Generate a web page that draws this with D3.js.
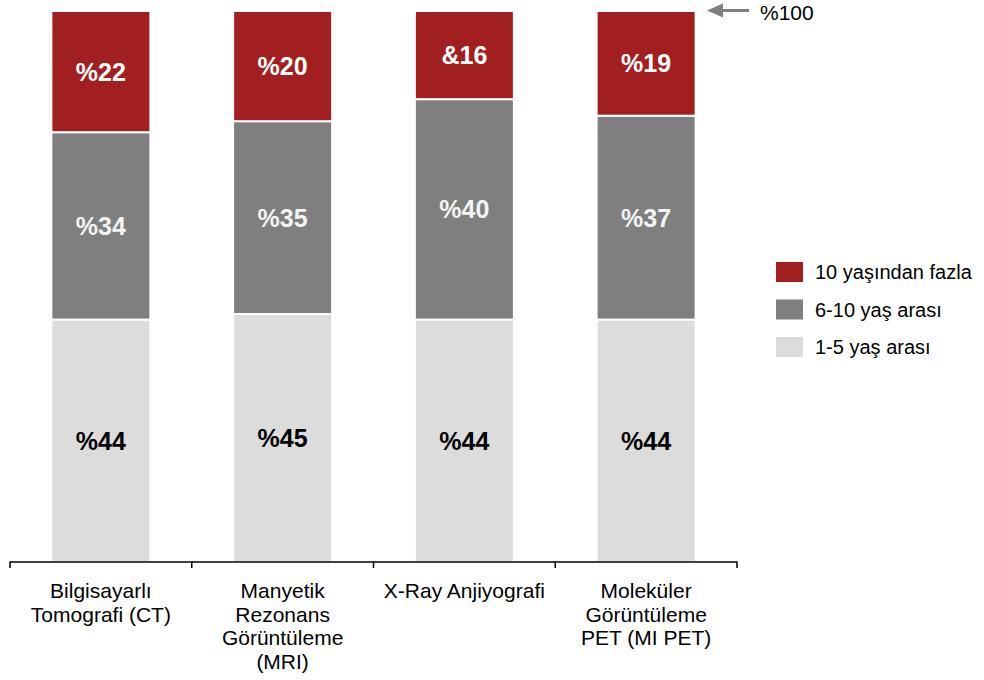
<!DOCTYPE html>
<html><head><meta charset="utf-8">
<script src="https://cdn.jsdelivr.net/npm/d3@7/dist/d3.min.js"></script>
<style>body{margin:0;background:#fff}svg{display:block;font-family:"Liberation Sans",Arial,sans-serif}</style>
</head><body><svg id="c" width="984" height="680"></svg>
<script>
const categories = [["Bilgisayarlı","Tomografi (CT)"],["Manyetik","Rezonans","Görüntüleme","(MRI)"],["X-Ray Anjiyografi"],["Moleküler","Görüntüleme","PET (MI PET)"]];
const seriesNames = ["1-5 yaş arası","6-10 yaş arası","10 yaşından fazla"];
const low = [44,45,44,44];
const mid = [34,35,40,37];
const high = [22,20,16,19];
const labelsLow = ["%44","%45","%44","%44"];
const labelsMid = ["%34","%35","%40","%37"];
const labelsHigh = ["%22","%20","&16","%19"];
const colors = ["#dcdcdc","#7f7f7f","#a11f20"];
const textColors = ["#000","#f4f4f4","#fff"];

const svg = d3.select("#c");
const x = d3.scaleBand().domain(d3.range(4)).range([10,737]).paddingInner(0).paddingOuter(0);
const y = d3.scaleLinear().domain([0,100]).range([562,11]);
const bw = 99;

const labels = [labelsLow, labelsMid, labelsHigh];
const data = d3.range(4).map(i => ({i, low: low[i], mid: mid[i], high: high[i]}));
const stack = d3.stack().keys(["low","mid","high"])(data);

stack.forEach((layer, k) => {
  const g = svg.append("g");
  g.selectAll("rect").data(layer).enter().append("rect")
    .attr("x", d => x(d.data.i) + x.bandwidth()/2 - bw/2)
    .attr("width", bw)
    .attr("y", d => y(d[1]))
    .attr("height", d => y(d[0]) - y(d[1]))
    .attr("fill", colors[k])
    .attr("stroke", "#fff").attr("stroke-width", 2);
  g.selectAll("text").data(layer).enter().append("text")
    .attr("x", d => x(d.data.i) + x.bandwidth()/2)
    .attr("y", d => (y(d[0]) + y(d[1]))/2)
    .attr("dy", "0.36em")
    .attr("text-anchor", "middle")
    .attr("font-size", 25).attr("font-weight", "bold")
    .attr("fill", textColors[k])
    .text((d, j) => labels[k][j]);
});

// axis
const ax = svg.append("g");
ax.append("line").attr("x1", 10).attr("x2", 737).attr("y1", 562).attr("y2", 562).attr("stroke", "#000").attr("stroke-width", 1.5);
const tickPos = d3.range(4).map(i => x(i)).concat([x(3) + x.bandwidth()]);
ax.selectAll("line.t").data(tickPos).enter().append("line").attr("class","t")
  .attr("x1", d => d).attr("x2", d => d).attr("y1", 561.5).attr("y2", 568).attr("stroke", "#000").attr("stroke-width", 1.5);
categories.forEach((lines, i) => {
  const t = ax.append("text").attr("text-anchor", "middle").attr("font-size", 21).attr("fill", "#000");
  lines.forEach((l, j) => t.append("tspan").attr("x", x(i) + x.bandwidth()/2).attr("y", 598 + j*23.5).text(l));
});

// 100% marker
const y100 = y(100) - 0.5;
svg.append("line").attr("x1", 749).attr("x2", 720).attr("y1", y100).attr("y2", y100).attr("stroke", "#7f7f7f").attr("stroke-width", 3);
svg.append("path").attr("d", `M707,${y100} L723,${y100-7} L723,${y100+7} Z`).attr("fill", "#7f7f7f");
svg.append("text").attr("x", 760).attr("y", y100 + 1.5).attr("dy", "0.36em").attr("font-size", 21).attr("fill", "#000").text("%100");

// legend
const legOrder = [2,1,0];
legOrder.forEach((k, j) => {
  const cy = 272 + j*37.5;
  svg.append("rect").attr("x", 776).attr("y", cy - 10).attr("width", 27).attr("height", 20).attr("fill", colors[k]);
  svg.append("text").attr("x", 815).attr("y", cy).attr("dy", "0.36em").attr("font-size", 20).attr("fill", "#000").text(seriesNames[k]);
});
</script></body></html>
